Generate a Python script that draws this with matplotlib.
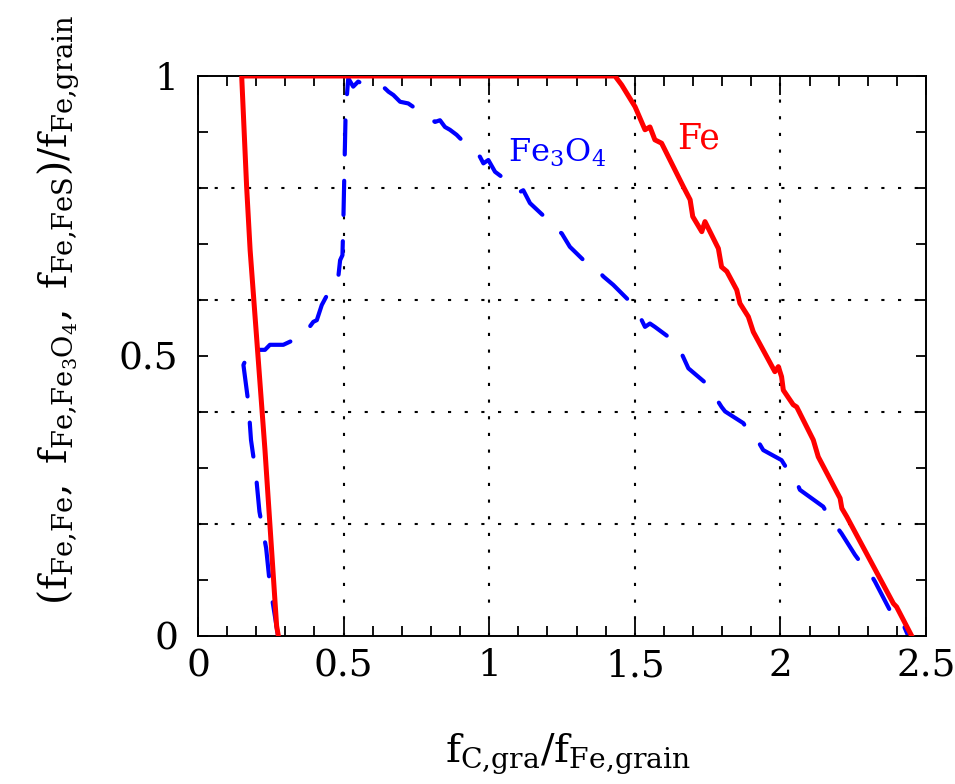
import matplotlib
matplotlib.use("Agg")
import matplotlib.pyplot as plt
import numpy as np

plt.rcParams['font.family'] = ['DejaVu Serif']
plt.rcParams['mathtext.fontset'] = 'dejavuserif'

# Fe (red solid)
fe_x = [0.276, 0.270, 0.230, 0.179, 0.167, 0.150, 1.432, 1.455, 1.501, 1.535, 1.552, 1.569,
        1.592, 1.667, 1.690, 1.699, 1.730, 1.741, 1.787, 1.798, 1.816, 1.850, 1.861, 1.890,
        1.907, 1.981, 1.993, 2.004, 2.010, 2.044, 2.056, 2.113, 2.130, 2.205, 2.211, 2.228,
        2.388, 2.399, 2.451]
fe_y = [0.0, 0.018, 0.332, 0.689, 0.802, 1.0, 1.0, 0.984, 0.945, 0.904, 0.909, 0.886,
        0.880, 0.802, 0.779, 0.749, 0.722, 0.740, 0.692, 0.659, 0.651, 0.618, 0.594, 0.570,
        0.543, 0.472, 0.481, 0.463, 0.439, 0.413, 0.409, 0.350, 0.320, 0.246, 0.228, 0.213,
        0.058, 0.052, 0.0]

# Fe3O4 (blue dashed)
fe3o4_x = [0.275, 0.247, 0.234, 0.211, 0.199, 0.182, 0.173, 0.156, 0.184, 0.202, 0.230, 0.247,
           0.293, 0.367, 0.379, 0.396, 0.408, 0.425, 0.465, 0.476, 0.482, 0.488, 0.496, 0.499,
           0.507, 0.516, 0.533, 0.550, 0.562, 0.579, 0.642, 0.654, 0.671, 0.694, 0.722, 0.814,
           0.831, 0.848, 0.865, 0.888, 0.951, 0.968, 0.980, 0.997, 1.020, 1.089, 1.106, 1.117,
           1.140, 1.220, 1.232, 1.249, 1.277, 1.340, 1.363, 1.392, 1.426, 1.501, 1.535, 1.552,
           1.569, 1.621, 1.638, 1.655, 1.684, 1.752, 1.787, 1.798, 1.810, 1.873, 1.890, 1.907,
           1.941, 2.004, 2.022, 2.039, 2.050, 2.067, 2.147, 2.164, 2.182, 2.193, 2.210, 2.256,
           2.273, 2.290, 2.308, 2.325, 2.376, 2.393, 2.411, 2.439]
fe3o4_y = [0.0, 0.091, 0.157, 0.222, 0.288, 0.350, 0.416, 0.484, 0.517, 0.511, 0.511, 0.520,
           0.520, 0.538, 0.549, 0.561, 0.564, 0.591, 0.630, 0.633, 0.642, 0.671, 0.680, 0.737,
           0.936, 0.996, 0.981, 0.990, 0.987, 0.984, 0.978, 0.972, 0.966, 0.954, 0.951, 0.918,
           0.921, 0.909, 0.904, 0.895, 0.862, 0.856, 0.844, 0.850, 0.829, 0.802, 0.793, 0.796,
           0.773, 0.734, 0.725, 0.719, 0.695, 0.663, 0.659, 0.642, 0.627, 0.588, 0.552, 0.558,
           0.552, 0.532, 0.517, 0.511, 0.478, 0.448, 0.418, 0.409, 0.401, 0.380, 0.365, 0.362,
           0.332, 0.314, 0.299, 0.284, 0.282, 0.261, 0.231, 0.216, 0.201, 0.195, 0.183, 0.145,
           0.133, 0.115, 0.112, 0.097, 0.046, 0.046, 0.034, 0.0]

xticks = [0, 0.5, 1, 1.5, 2, 2.5]
xticklabels = ['0', '0.5', '1', '1.5', '2', '2.5']
yticks = [0, 0.5, 1]
yticklabels = ['0', '0.5', '1']
xgrid = [0.5, 1.0, 1.5, 2.0]
ygrid = [0.2, 0.4, 0.6, 0.8]

W, H = 955, 784
fig = plt.figure(figsize=(W / 100, H / 100), dpi=100)
ax = fig.add_axes([198 / W, 148 / H, 728 / W, 560 / H])

for gx in xgrid:
    ax.axvline(gx, color='black', lw=1.5, linestyle=(0, (1.5, 6.5)), zorder=1)
for gy in ygrid:
    ax.axhline(gy, color='black', lw=1.5, linestyle=(0, (1.5, 6.5)), zorder=1)

ax.plot(fe_x, fe_y, color='#ff0000', lw=3.6, zorder=3, solid_joinstyle='round')
ax.plot(fe3o4_x, fe3o4_y, color='#0000ff', lw=3.0, dashes=(8.2, 6.3), zorder=2,
        dash_capstyle='round', dash_joinstyle='round')

ax.text(1.645, 0.871, 'Fe', color='#ff0000', fontsize=25)
ax.text(1.065, 0.846, r'$\mathrm{Fe_3O_4}$', color='#0000ff', fontsize=23)

ax.set_xlim(0, 2.5)
ax.set_ylim(0, 1)
ax.set_xticks(xticks)
ax.set_xticklabels(xticklabels)
ax.set_yticks(yticks)
ax.set_yticklabels(yticklabels)
ax.set_xticks(np.arange(0, 2.51, 0.1), minor=True)
ax.set_yticks(np.arange(0, 1.01, 0.1), minor=True)
ax.tick_params(axis='x', which='major', direction='in', length=14, width=1.3,
               top=True, bottom=True, labelsize=27, pad=9)
ax.tick_params(axis='x', which='minor', direction='in', length=7, width=1.3, top=True, bottom=True)
ax.tick_params(axis='y', which='major', direction='in', length=7.5, width=1.3,
               left=True, right=True, labelsize=27, pad=14)
ax.tick_params(axis='y', which='minor', direction='in', length=7, width=1.3, left=True, right=True)
for sp in ax.spines.values():
    sp.set_linewidth(1.4)

fig.text(568 / W, 1 - 754 / H, r'$\mathrm{f_{C{,}gra}/f_{Fe{,}grain}}$', fontsize=29,
         ha='center', va='center')
fig.text(58 / W, 1 - 605 / H,
         r'$\mathrm{(f_{Fe{,}Fe},\ f_{Fe{,}Fe_3O_4},\ f_{Fe{,}FeS})/f_{Fe{,}grain}}$',
         fontsize=28, rotation=90, ha='center', va='bottom')

fig.savefig('out.png', dpi=100)
